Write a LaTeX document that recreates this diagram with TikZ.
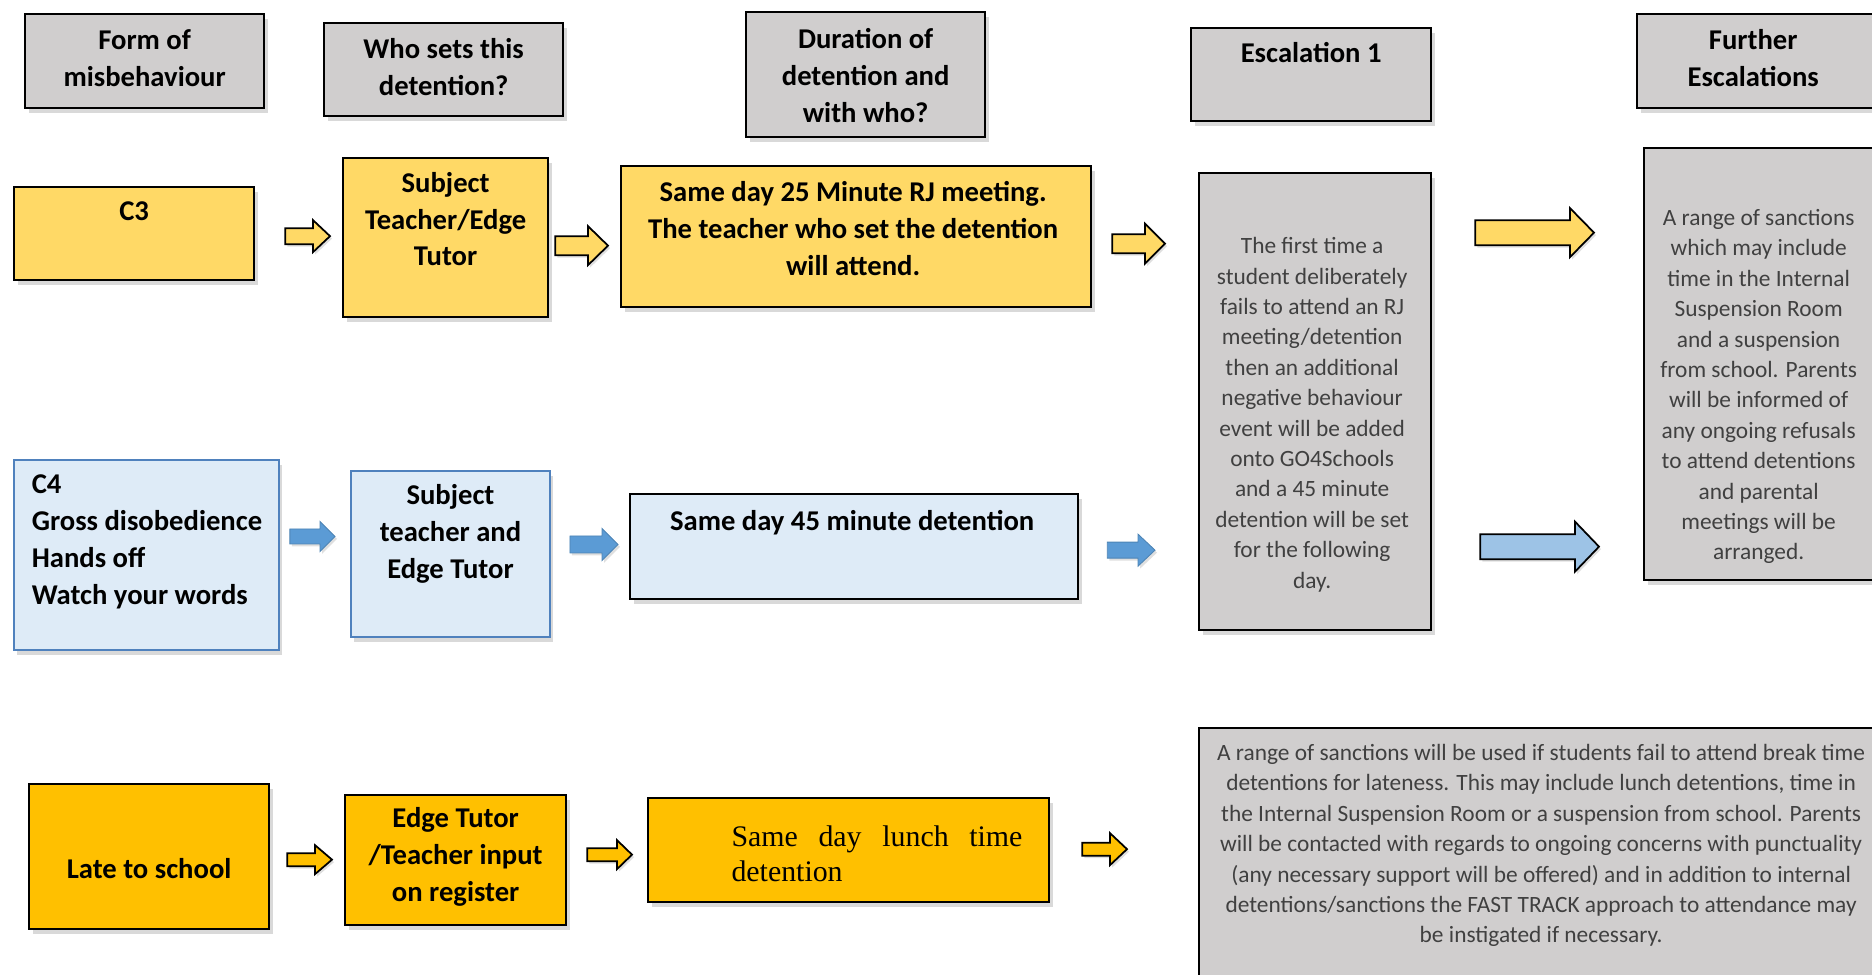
\documentclass[tikz,border=0pt]{standalone}
\usepackage{fontspec}
\setmainfont{Carlito}
\newfontfamily\serifface{Liberation Serif}
\usetikzlibrary{positioning,shapes,calc,shadows}
\def\px{0.02cm}
\definecolor{hdrgray}{RGB}{208,206,206}
\definecolor{paleyellow}{RGB}{255,217,102}
\definecolor{amber}{RGB}{255,192,0}
\definecolor{paleblue}{RGB}{222,235,247}
\definecolor{edgeblue}{RGB}{79,129,189}
\definecolor{midblue}{RGB}{91,155,213}
\definecolor{skyblue}{RGB}{157,195,230}
\definecolor{notegray}{RGB}{64,64,64}
\tikzstyle{cell}=[draw,line width=1.3pt,inner sep=0pt,
  drop shadow={opacity=0.3,shadow xshift=0.07cm,shadow yshift=-0.1cm}]
\tikzstyle{greycell}=[cell,fill=hdrgray]
\tikzstyle{yellowcell}=[cell,fill=paleyellow]
\tikzstyle{bluecell}=[cell,fill=paleblue,draw=edgeblue,line width=1.1pt]
\tikzstyle{ambercell}=[cell,fill=amber]
\tikzstyle{boldtxt}=[inner sep=0pt,align=center,font={\fontsize{16.3pt}{21pt}\selectfont\bfseries}]
\tikzstyle{notetxt}=[inner sep=0pt,align=center,text=notegray,font={\fontsize{13.3pt}{17.3pt}\selectfont}]
\tikzstyle{fatarrow}=[draw,line width=1pt,line join=miter,
  drop shadow={opacity=0.25,shadow xshift=0.04cm,shadow yshift=-0.05cm}]
\tikzstyle{yarrow}=[fatarrow,fill=paleyellow]
\tikzstyle{aarrow}=[fatarrow,fill=amber]
\tikzstyle{barrow}=[fatarrow,fill=midblue,draw=midblue!85!black,line width=0.5pt]
\tikzstyle{sarrow}=[fatarrow,fill=skyblue]
% box: name, style, x1, y1, x2, y2, text style, text offset, text
\newcommand{\newBox}[9]{%
  \node[#2,anchor=north west,minimum width={(#5-#3)*\px},minimum height={(#6-#4)*\px}] (#1) at (#3,#4) {};
  \node[#7] (#1-t) at ($(#1)+(#8)$) {#9};}
% block arrow: style, from, to, shaft half, head half, head length
\newcommand{\newArrow}[6]{\path[#1] let \p1=(#2), \p2=(#3) in
  (\x1,\y1+#4*\px) -- (\x2-#6*\px,\y1+#4*\px) -- (\x2-#6*\px,\y1+#5*\px) -- (\x2,\y1)
  -- (\x2-#6*\px,\y1-#5*\px) -- (\x2-#6*\px,\y1-#4*\px) -- (\x1,\y1-#4*\px) -- cycle;}

\begin{document}
\begin{tikzpicture}[x=\px,y=-\px]
  \useasboundingbox (0,0) rectangle (1872,974);
  \clip (0,0) rectangle (1872,974);

  % column headers
  \newBox{form}{greycell}{24}{13}{263}{107}{boldtxt}{0,-3}{Form of\\misbehaviour}
  \newBox{who}{greycell}{323}{22}{562}{115}{boldtxt}{0,-3}{Who sets this\\detention?}
  \newBox{dur}{greycell}{745}{11}{984}{136}{boldtxt}{0,1}{Duration of\\detention and\\with who?}
  \newBox{esc}{greycell}{1190}{27}{1430}{120}{boldtxt}{0,-22.5}{Escalation 1}
  \newBox{fur}{greycell}{1636}{13}{1876}{107}{boldtxt}{-4,-3}{Further\\Escalations}

  % C3 row
  \newBox{c3}{yellowcell}{13}{186}{253}{279}{boldtxt}{0,-22.5}{C3}
  \newBox{subj1}{yellowcell}{342}{157}{547}{316}{boldtxt}{0,-18.5}{Subject\\Teacher/Edge\\Tutor}
  \newBox{dur1}{yellowcell}{620}{165}{1090}{306}{boldtxt}{-3,-8.5}{Same day 25 Minute RJ meeting.\\The teacher who set the detention\\will attend.}

  % escalations
  \newBox{escb}{greycell}{1198}{172}{1430}{629}{notetxt}{-3,13}{The first time a\\student deliberately\\fails to attend an RJ\\meeting/detention\\then an additional\\negative behaviour\\event will be added\\onto GO4Schools\\and a 45 minute\\detention will be set\\for the following\\day.}
  \newBox{furb}{greycell}{1643}{147}{1876}{579}{notetxt}{-2,22.5}{A range of sanctions\\which may include\\time in the Internal\\Suspension Room\\and a suspension\\from school. Parents\\will be informed of\\any ongoing refusals\\to attend detentions\\and parental\\meetings will be\\arranged.}

  % C4 row
  \newBox{c4}{bluecell}{13}{459}{278}{649}{boldtxt,align=left,anchor=west}{-115,-13}{C4\\Gross disobedience\\Hands off\\Watch your words}
  \newBox{subj2}{bluecell}{350}{470}{549}{636}{boldtxt}{0,-20}{Subject\\teacher and\\Edge Tutor}
  \newBox{dur2}{cell,fill=paleblue}{629}{493}{1077}{598}{boldtxt}{-2,-23.5}{Same day 45 minute detention}

  % lateness row
  \newBox{late}{ambercell}{28}{783}{268}{928}{boldtxt}{0,11.5}{Late to school}
  \newBox{edge}{ambercell}{344}{794}{565}{924}{boldtxt}{0,-3}{Edge Tutor\\/Teacher input\\on register}
  \newBox{lunch}{ambercell}{647}{797}{1048}{901}{inner sep=0pt,anchor=west,text width=5.82cm,align=justify,font={\serifface\fontsize{17pt}{20pt}\selectfont}}{-117.5,3.5}{Same day lunch time \mbox{detention}}
  \newBox{note}{greycell}{1198}{727}{1882}{1000}{notetxt}{0,-19}{A range of sanctions will be used if students fail to attend break time\\detentions for lateness. This may include lunch detentions, time in\\the Internal Suspension Room or a suspension from school. Parents\\will be contacted with regards to ongoing concerns with punctuality\\(any necessary support will be offered) and in addition to internal\\detentions/sanctions the FAST TRACK approach to attendance may\\be instigated if necessary.}

  % arrows
  \newArrow{yarrow}{$(c3.east)+(30,2.5)$}{$(subj1.west)+(-12,0)$}{8}{16}{17}
  \newArrow{yarrow}{$(subj1.east)+(6,8)$}{$(dur1.west)+(-12,0)$}{9.5}{19.5}{20}
  \newArrow{yarrow}{$(dur1.east)+(20,7)$}{$(escb.west)+(-33,0)$}{9.5}{20}{20}
  \newArrow{yarrow}{$(escb.east)+(43,-169)$}{$(furb.west)+(-49,0)$}{12.5}{24.5}{24}
  \newArrow{sarrow}{$(escb.east)+(48,145)$}{$(furb.west)+(-44,0)$}{12.5}{25}{24}
  \newArrow{barrow}{$(c4.east)+(10,-18.5)$}{$(subj2.west)+(-15,0)$}{7.5}{15}{15}
  \newArrow{barrow}{$(subj2.east)+(19,-9.5)$}{$(dur2.west)+(-11,0)$}{8.5}{16}{16}
  \newArrow{barrow}{$(dur2.east)+(28,3.5)$}{$(escb.west)+(-43,0)$}{8}{16}{17}
  \newArrow{aarrow}{$(late.east)+(17,3)$}{$(edge.west)+(-12,0)$}{6.5}{14.5}{17}
  \newArrow{aarrow}{$(edge.east)+(20,-5.5)$}{$(lunch.west)+(-15,0)$}{6.5}{14.5}{15}
  \newArrow{aarrow}{$(lunch.east)+(32,-1)$}{$(note.west)+(-71,0)$}{6.5}{16}{17}
\end{tikzpicture}
\end{document}
